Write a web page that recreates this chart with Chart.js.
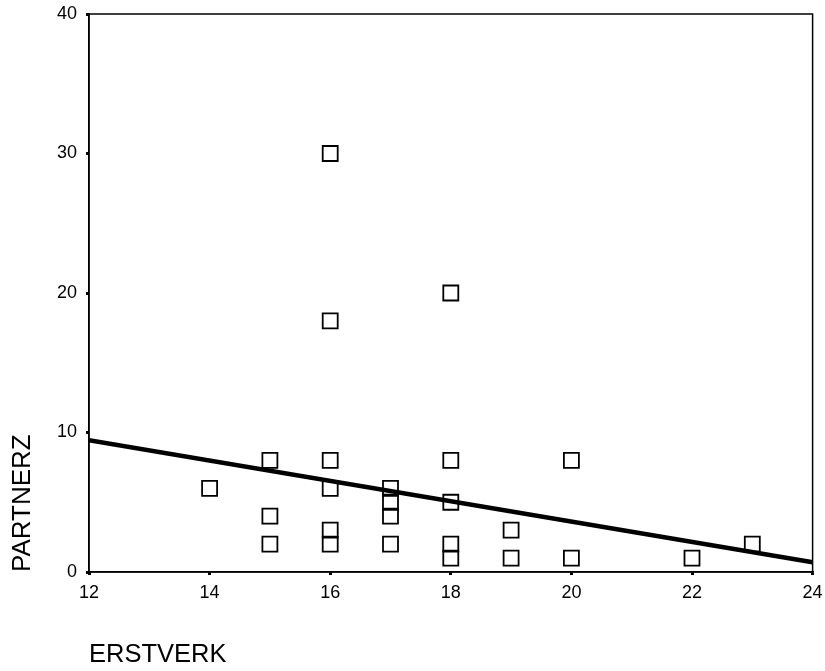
<!DOCTYPE html>
<html>
<head>
<meta charset="utf-8">
<script src="https://cdn.jsdelivr.net/npm/chart.js@4/dist/chart.umd.min.js"></script>
<style>
  html, body { margin: 0; padding: 0; background: #fff; }
  #wrap { width: 825px; height: 671px; position: relative; }
</style>
</head>
<body>
<div id="wrap"><canvas id="c"></canvas></div>
<script>
// ERSTVERK (x) / PARTNERZ (y) pairs
const erstverk = [14, 15, 15, 15, 16, 16, 16, 16, 16, 16, 17, 17, 17, 17, 18, 18, 18, 18, 18, 19, 19, 20, 20, 22, 23];
const partnerz = [6, 8, 4, 2, 30, 18, 8, 6, 3, 2, 6, 5, 4, 2, 20, 8, 5, 2, 1, 3, 1, 8, 1, 1, 2];
// fitted line end points
const fitX = [12, 24];
const fitY = [9.45, 0.7];
const xTicks = [12, 14, 16, 18, 20, 22, 24];
const yTicks = [0, 10, 20, 30, 40];

const font = "'Liberation Sans', Arial, sans-serif";

// frame around the plot area
const boxPlugin = {
  id: "box",
  afterDatasetsDraw(chart) {
    const { ctx, chartArea: a } = chart;
    ctx.save();
    ctx.strokeStyle = "#000";
    ctx.lineWidth = 1.5;
    ctx.strokeRect(a.left, a.top, a.right - a.left, a.bottom - a.top);
    ctx.restore();
  },
};

new Chart(document.getElementById("c"), {
  type: "scatter",
  data: {
    datasets: [
      {
        label: "fit",
        type: "line",
        data: fitX.map((x, i) => ({ x, y: fitY[i] })),
        borderColor: "#000",
        borderWidth: 4.5,
        pointRadius: 0,
        fill: false,
      },
      {
        label: "PARTNERZ",
        data: erstverk.map((x, i) => ({ x, y: partnerz[i] })),
        pointStyle: "rect",
        pointRadius: 10.6,
        pointHoverRadius: 10.6,
        borderColor: "#000",
        borderWidth: 1.8,
        backgroundColor: "rgba(0,0,0,0)",
      },
    ],
  },
  plugins: [boxPlugin],
  options: {
    responsive: true,
    maintainAspectRatio: false,
    animation: false,
    layout: { padding: { top: 14, right: 11, left: 0, bottom: 0 } },
    plugins: {
      legend: { display: false },
      tooltip: { enabled: false },
    },
    scales: {
      x: {
        type: "linear",
        min: 12,
        max: 24,
        afterBuildTicks: (s) => { s.ticks = xTicks.map((v) => ({ value: v })); },
        afterFit: (s) => { s.height = 99; s.paddingLeft = 0; s.paddingRight = 0; },
        border: { display: true, color: "#000", width: 1.5 },
        grid: { display: true, drawOnChartArea: false, drawTicks: true, tickLength: 3, color: "#000", lineWidth: 3 },
        ticks: { color: "#000", padding: 7, font: { family: font, size: 18 } },
        title: {
          display: true,
          text: "ERSTVERK",
          align: "start",
          color: "#000",
          font: { family: font, size: 25.5 },
          padding: { top: 0, bottom: 1 },
        },
      },
      y: {
        type: "linear",
        min: 0,
        max: 40,
        afterBuildTicks: (s) => { s.ticks = yTicks.map((v) => ({ value: v })); },
        afterFit: (s) => { s.width = 89; s.paddingTop = 0; s.paddingBottom = 0; },
        border: { display: true, color: "#000", width: 1.5 },
        grid: { display: true, drawOnChartArea: false, drawTicks: true, tickLength: 3, color: "#000", lineWidth: 3 },
        ticks: { color: "#000", padding: 9, font: { family: font, size: 18 } },
        title: {
          display: true,
          text: "PARTNERZ",
          align: "start",
          color: "#000",
          font: { family: font, size: 26 },
          padding: { top: 7, bottom: 0 },
        },
      },
    },
  },
});
</script>
</body>
</html>
